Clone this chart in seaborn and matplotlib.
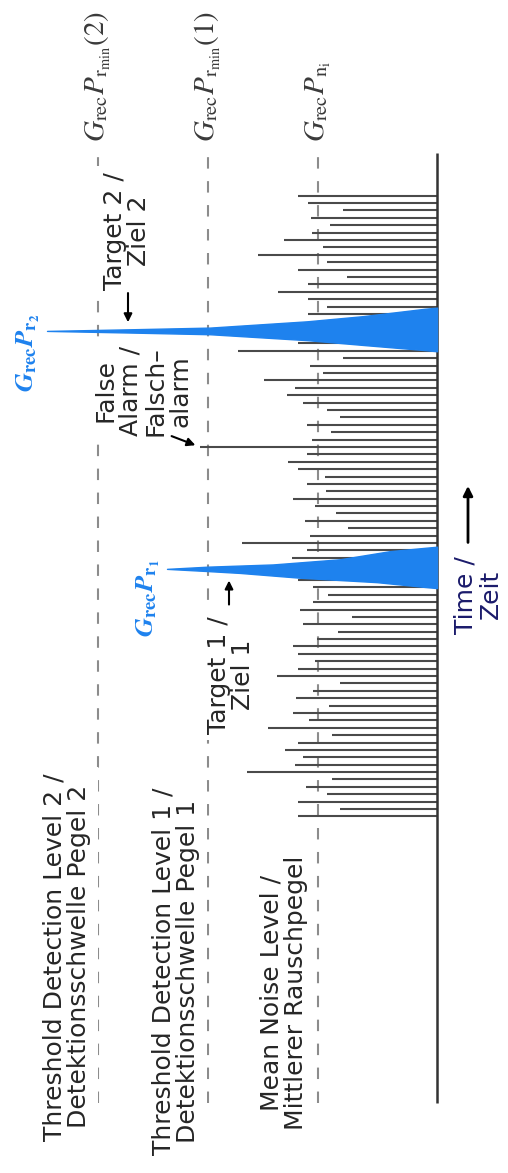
import numpy as np
import matplotlib.pyplot as plt
import seaborn as sns

# --- DATA ---
# noise pulses, one per time step (a.u.), NaN where the target echo covers them
noise_amp = [139, 97, 139, 110, 131, 105, 190, 142, 134, 152,
             139, 105, 169, 128, 144, 108, 141, 124, 97, 160,
             139, 122, 139, 144, 120, 99, 134, 85, 137, 124,
             109, 124, 139, np.nan, np.nan, 145, 130, 195, 127, 89,
             132, 101, 122, 144, 111, 130, 112, 139, 149, 130,
             237, 125, 106, 130, 97, 110, 134, 150, 142, 173,
             114, 127, 94, 199, 139, np.nan, np.nan, np.nan, 129, 110,
             129, 159, 129, 90, 139, 110, 179, 114, 153, 125,
             107, 126, 94, 129, 139]
noise_time = np.arange(len(noise_amp))

# horizontal levels (a.u.)
noise_level = 119
threshold_1 = 229
threshold_2 = 339
levels = [noise_level, threshold_1, threshold_2]
level_labels = [r'$G_{\mathrm{rec}}P_{\mathrm{n_i}}$',
                r'$G_{\mathrm{rec}}P_{\mathrm{r_{min}}}(1)$',
                r'$G_{\mathrm{rec}}P_{\mathrm{r_{min}}}(2)$']

# time window of the axis
time_start, time_end = -38.8, 89.8

# target echoes: peak time, time offsets around the peak, amplitude
target1_time = 33.5
target1_offset = [-2.6, -2.45, -1.8, -1.2, -0.55, -0.3, 0, 0.3, 0.6, 1.3, 2.4, 2.85, 3.0]
target1_amp = [0, 12, 60, 137, 197, 229, 270, 229, 164, 97, 47, 12, 0]

target2_time = 65.7
target2_offset = [-2.75, -2.6, -1.9, -1.25, -0.45, -0.22, 0, 0.22, 0.45, 1.3, 2.0, 3.0, 3.15]
target2_amp = [0, 12, 74, 130, 227, 307, 390, 307, 227, 130, 74, 12, 0]

BLUE = '#1e82ee'

# --- STYLE ---
sns.set_theme(style="white")
plt.rcParams['font.family'] = ['DejaVu Sans']
plt.rcParams['mathtext.fontset'] = 'stix'

fig = plt.figure(figsize=(5.08, 11.73), dpi=100)
ax = fig.add_axes([0, 0, 1, 1])
ax.set_xlim(437, -71)          # amplitude grows to the left
ax.set_ylim(-48.25, 110.48)    # time grows upward
ax.axis('off')

# noise pulses
amp = np.array(noise_amp, dtype=float)
ok = ~np.isnan(amp)
ax.hlines(noise_time[ok], 0, amp[ok], color='#4a4a4a', lw=1.5, zorder=2)

# levels (dashed) and baseline
ax.vlines(levels, time_start, time_end - 0.3, colors='#8c8c8c',
          linestyles=[(0, (5.5, 6))], lw=1.5, zorder=1)
ax.vlines(0, time_start, time_end, color='#333333', lw=1.8, zorder=3)

# target echoes
for t0, offs, amps in [(target1_time, target1_offset, target1_amp),
                       (target2_time, target2_offset, target2_amp)]:
    ax.fill_betweenx(t0 + np.array(offs), 0, amps, color=BLUE,
                     edgecolor=BLUE, lw=1.0, zorder=6)

# level labels on top
for lv, lab in zip(levels, level_labels):
    ax.text(lv, 91.3, lab, rotation=90, ha='center', va='bottom',
            fontsize=21, color='#3a3a3a')

# echo labels
ax.text(409, 62.7, r'$\mathbfit{G}_{\mathbf{rec}}\mathbfit{P}_{\mathbf{r}_{\mathbf{2}}}$',
        rotation=90, ha='center', va='center', fontsize=19, color=BLUE)
ax.text(289, 29.6, r'$\mathbfit{G}_{\mathbf{rec}}\mathbfit{P}_{\mathbf{r}_{\mathbf{1}}}$',
        rotation=90, ha='center', va='center', fontsize=19, color=BLUE)

# annotation texts
kw = dict(rotation=90, ha='center', va='center', fontsize=18, linespacing=1.05, zorder=4)
box = dict(boxstyle='square,pad=0.25', fc='white', ec='none')
ax.text(370, -19.0, "Threshold Detection Level 2 /\nDetektionsschwelle Pegel 2", bbox=box, **kw)
ax.text(261, -21.0, "Threshold Detection Level 1 /\nDetektionsschwelle Pegel 1", bbox=box, **kw)
ax.text(153, -23.9, "Mean Noise Level /\nMittlerer Rauschpegel", **kw)
ax.text(310, 79.2, "Target 2 /\nZiel 2", bbox=box, **kw)
ax.text(294, 57.6, "False\nAlarm /\nFalsch\u2013\nalarm", bbox=box, **kw)
ax.text(206, 19.1, "Target 1 /\nZiel 1", bbox=box, **kw)
ax.text(-41, 30.0, "Time /\nZeit", color='#1b1b6b', **kw)

# arrows
arr = dict(arrowstyle='-|>', color='black', lw=1.5, mutation_scale=12)
ax.annotate('', xy=(309, 66.5), xytext=(309, 71.2), arrowprops=arr, zorder=7)
ax.annotate('', xy=(239, 50.1), xytext=(268, 51.6), arrowprops=arr, zorder=7)
ax.annotate('', xy=(208, 32.3), xytext=(208, 28.3), arrowprops=arr, zorder=7)
ax.annotate('', xy=(-31, 45.1), xytext=(-31, 36.7),
            arrowprops=dict(arrowstyle='-|>', color='black', lw=2, mutation_scale=14))

plt.savefig("out.png", dpi=100)
